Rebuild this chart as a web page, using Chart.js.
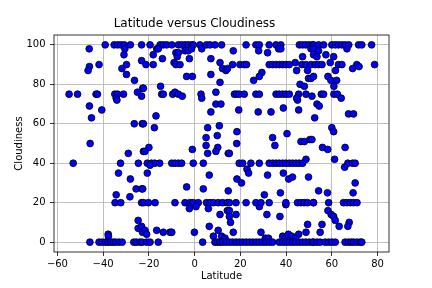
<!DOCTYPE html>
<html>
<head>
<meta charset="utf-8">
<script src="https://cdn.jsdelivr.net/npm/chart.js@4/dist/chart.umd.min.js"></script>
<style>
  html, body { margin: 0; padding: 0; background: #fff; }
  canvas { display: block; }
</style>
</head>
<body>
<canvas id="chart" width="432" height="288" style="width:432px;height:288px"></canvas>
<script>
// --- Data (one entry per city) ---
const latitude = [
  -39.1,-46.1,-35.2,-33.7,-32.3,-30.8,-28.1,-30.5,-30.9,-23.2,
  -29.8,-41.8,-46,-46.6,-31.8,-29.8,-26.3,-22.7,-25,-23.2,
  -54.9,-51.2,-43.1,-42.5,-34.9,-33.7,-31.1,-34.3,-34,-46,
  -40.6,-45.1,-26.4,-22.9,-45.7,-29,-22.4,-53.1,-32.4,-24.6,
  -33.3,-28.1,-25.6,-23.1,-34.3,-28.3,-34.8,-32.3,-23.2,-24.7,
  -24.7,-23.2,-22.8,-37.8,-37.7,-45.8,-41.8,-40.4,-38.9,-37.9,
  -36.7,-35.6,-34.6,-33.1,-31.7,-26.6,-25.5,-24,-23,
  -23.2,-19.5,-15.1,-13.7,-12.2,-10,-7.1,-5.7,-4.2,-2.8,-1.3,-0.6,2.3,5.2,6.7,8.9,11.8,
  -16.6,-15.9,-8.2,-7.6,-7.1,-4.2,-2.8,-1.3,-18.1,-21.3,
  -18.1,-14.1,-9,-8.2,-6.4,-2.3,3.1,7.1,11.1,12.2,
  13.7,-3.5,-1,7.1,11.1,-14.9,-22.4,-14.4,-13.7,-9.6,
  -8.6,-7.1,-5.4,2.8,3.1,9.3,9.3,11.5,7.1,-16.9,
  -22.4,-17.6,10.8,5.7,9.9,5,5,10.1,9.3,-20,
  -21.7,-1,5.7,14.7,-20.7,-18.9,-17.5,-15.3,-10,-8.6,
  -7.1,-5.7,-0.6,3.8,-19.5,-20.7,6.4,-22.7,-3.5,3.8,
  14.7,-22.4,-20.2,-17.3,-8.6,-4.2,-2,-0.6,1.6,5.2,
  6.7,8.2,10.3,12.2,14.3,-2.3,0.6,6,11.1,14.3,
  -21.7,6.4,10.3,-21,-16.6,-13.7,-10.8,-10,-0.1,8.2,
  11.8,13.3,-21,-19.5,-15.9,3.5,8.9,9.9,11.1,12.2,13.7,
  22.5,26.8,28.3,32.6,35.6,37.7,45.8,47.2,48.6,50.1,51.6,
  16.9,28,31.9,36.7,37.7,50.9,47.2,16.6,19.8,21.7,
  22.7,32.6,34.1,35.6,37,38.5,39.9,41.4,46.9,48.7,
  50.9,14.4,44,44.6,49.4,29.4,28.3,25.8,49.8,50.9,
  46.1,48,17.4,18.4,19.5,21.7,26.8,28.3,35.6,37,
  38.5,39.9,41.4,45.5,48.7,45,44.6,19.3,27.8,33.4,
  38.8,45.5,18.5,18.4,40.4,34.1,35.1,46.5,48,50.4,
  15.2,48.7,19.5,21,24.6,28.3,32.6,34.1,35.6,37,
  38.5,39.9,41.4,42.8,44.3,45.7,47.2,22.9,23.6,18.5,
  20.5,31.9,38.8,41.1,42.8,49.8,30.5,32.6,28.3,37.5,
  39.9,15.2,18.1,22.5,26.8,29,39.9,45,46.5,47.9,
  49.4,51.9,15.2,15.2,18.1,31.6,37.3,49.4,48.7,15.7,
  16.9,29,45.5,38.5,39.5,41,42.5,44,30.9,32.3,
  15.2,16.6,18.1,19.5,21,22.5,24,25.4,26.9,28.3,29.8,31.2,32.7,34.1,
  37,38.5,39.9,41.4,42.8,44.2,45.7,47.2,48.6,50.1,51.6,
  52,54.2,56.4,60,61.5,62.9,64.4,65.9,67.4,71.7,73.1,77.4,
  52,54.2,52,53.5,57.4,60.8,66.6,52.8,54.2,55.7,
  59.3,62.9,64.4,70.9,71.9,69.1,78.7,61.6,58.3,52,
  59.6,62.1,60.9,51.3,55.4,56.4,60.9,62.4,64.1,53.5,
  54.5,67.3,69.5,52.5,60,60.8,51.3,55.9,58.2,65.8,
  61.2,67,69.1,70.2,65.6,70.2,54.2,58.1,69.3,52,
  58.6,65.1,66.6,68.1,69.5,71,58.3,59.7,60.8,61.5,
  67.6,67,55.7,63.2,54.9,
  52,53.5,54.9,57.1,58.6,60,61.5,65.8,67.3,68.5,69.5,71,72.4,73.1
];

const cloudiness = [
  100,98,100,100,100,100,100,98,95,92,
  90,90,89,87,88,85,82,78,76,74,
  75,75,75,75,75,75,75,73,72,69,
  67,63,60,60,50,45,46,40,40,40,
  35,32,27,27,24,23,20,20,20,11,
  7,8,5,4,3,0,0,0,0,0,
  0,0,0,0,0,0,0,0,0,
  100,100,100,100,100,100,100,100,100,100,100,100,100,100,100,100,100,
  98,98,96,94,96,97,97,98,95,90,
  90,93,91,90,90,93,98,93,91,88,
  87,84,84,85,81,79,78,75,75,75,
  76,75,74,75,73,76,70,70,66,64,
  60,58,59,58,54,53,49,48,46,48,
  46,47,45,45,40,40,40,40,40,40,
  40,40,40,40,39,35,34,27,28,27,
  26,20,20,20,20,20,20,20,20,20,
  20,20,20,20,20,17,18,17,14,16,
  6,8,6,4,6,5,5,5,5,3,
  3,2,0,0,0,0,0,0,0,0,0,
  100,100,100,100,100,100,100,100,100,100,100,
  97,97,96,98,98,98,94,90,90,90,
  90,90,90,90,90,90,90,90,90,90,
  90,88,91,87,87,86,84,82,83,83,
  80,79,75,75,75,75,75,75,75,75,
  75,75,75,75,75,72,73,67,66,66,
  68,67,56,50,55,53,49,51,51,52,
  45,42,40,40,40,40,40,40,40,40,
  40,40,40,40,40,40,40,37,35,32,
  30,34,35,32,33,33,24,20,18,25,
  19,20,20,20,20,20,20,20,20,20,
  20,20,16,13,14,14,13,9,5,10,
  5,5,4,3,2,4,3,2,2,2,
  0,0,0,0,0,0,0,0,0,0,0,0,0,0,
  0,0,0,0,0,0,0,0,0,0,0,
  100,100,100,100,100,100,100,100,100,100,100,100,
  98,97,95,94,95,94,98,90,90,90,
  91,90,90,90,89,88,90,87,84,84,
  82,82,79,74,75,75,75,75,73,70,
  69,65,65,63,58,56,52,48,47,48,
  42,40,40,40,38,30,26,25,25,20,
  20,20,20,20,20,20,16,14,13,11,
  10,8,9,8,5,
  0,0,0,0,0,0,0,0,0,0,0,0,0,0
];

const xTicks = [-60, -40, -20, 0, 20, 40, 60, 80];
const yTicks = [0, 20, 40, 60, 80, 100];

const chartTitle = 'Latitude versus Cloudiness';
const xLabel = 'Latitude';
const yLabel = 'Cloudiness';

// --- Build chart ---
if (latitude.length !== cloudiness.length) {
    console.error('length mismatch', latitude.length, cloudiness.length);
}
const points = latitude.map((lat, i) => ({ x: lat, y: cloudiness[i] }));

const FONT = 'DejaVu Sans';
const minus = v => (v < 0 ? '\u2212' + Math.abs(v) : String(v));

// draw the full axes frame like matplotlib spines
const framePlugin = {
    id: 'frame',
    afterDraw(chart) {
        const { ctx, chartArea: a } = chart;
        ctx.save();
        ctx.strokeStyle = '#000';
        ctx.lineWidth = 0.8;
        ctx.strokeRect(a.left, a.top, a.right - a.left, a.bottom - a.top);
        ctx.restore();
    }
};

const gridOpts = { color: '#b0b0b0', lineWidth: 0.8, tickLength: 4, tickColor: '#000', tickWidth: 0.8 };

new Chart(document.getElementById('chart').getContext('2d'), {
    type: 'scatter',
    data: {
        datasets: [{
            data: points,
            backgroundColor: '#0000ff',
            borderColor: '#000000',
            borderWidth: 0.8,
            pointRadius: 3.4
        }]
    },
    options: {
        responsive: false,
        animation: false,
        layout: { padding: { left: 0, right: 43, top: 0, bottom: 0 } },
        plugins: {
            legend: { display: false },
            tooltip: { enabled: false },
            title: {
                display: true,
                text: chartTitle,
                color: '#000',
                font: { family: FONT, size: 12, weight: 'normal' },
                padding: { top: 17, bottom: 3.6 }
            }
        },
        scales: {
            x: {
                type: 'linear',
                min: -61.5,
                max: 85,
                z: 1,
                afterBuildTicks: s => { s.ticks = xTicks.map(v => ({ value: v })); },
                afterFit: s => { s.height = 36; },
                grid: gridOpts,
                border: { display: false },
                ticks: {
                    color: '#000',
                    font: { family: FONT, size: 10 },
                    padding: 2,
                    maxRotation: 0,
                    callback: v => minus(v)
                },
                title: {
                    display: true,
                    text: xLabel,
                    color: '#000',
                    font: { family: FONT, size: 10 },
                    padding: { top: 0, bottom: 5.3 }
                }
            },
            y: {
                type: 'linear',
                min: -5,
                max: 105,
                z: 1,
                afterBuildTicks: s => { s.ticks = yTicks.map(v => ({ value: v })); },
                afterFit: s => { s.width = 54; },
                grid: gridOpts,
                border: { display: false },
                ticks: {
                    color: '#000',
                    font: { family: FONT, size: 10 },
                    padding: 4.5,
                    callback: v => minus(v)
                },
                title: {
                    display: true,
                    text: yLabel,
                    color: '#000',
                    font: { family: FONT, size: 10 },
                    padding: { top: 13.5, bottom: 0 }
                }
            }
        }
    },
    plugins: [framePlugin]
});
</script>
</body>
</html>
